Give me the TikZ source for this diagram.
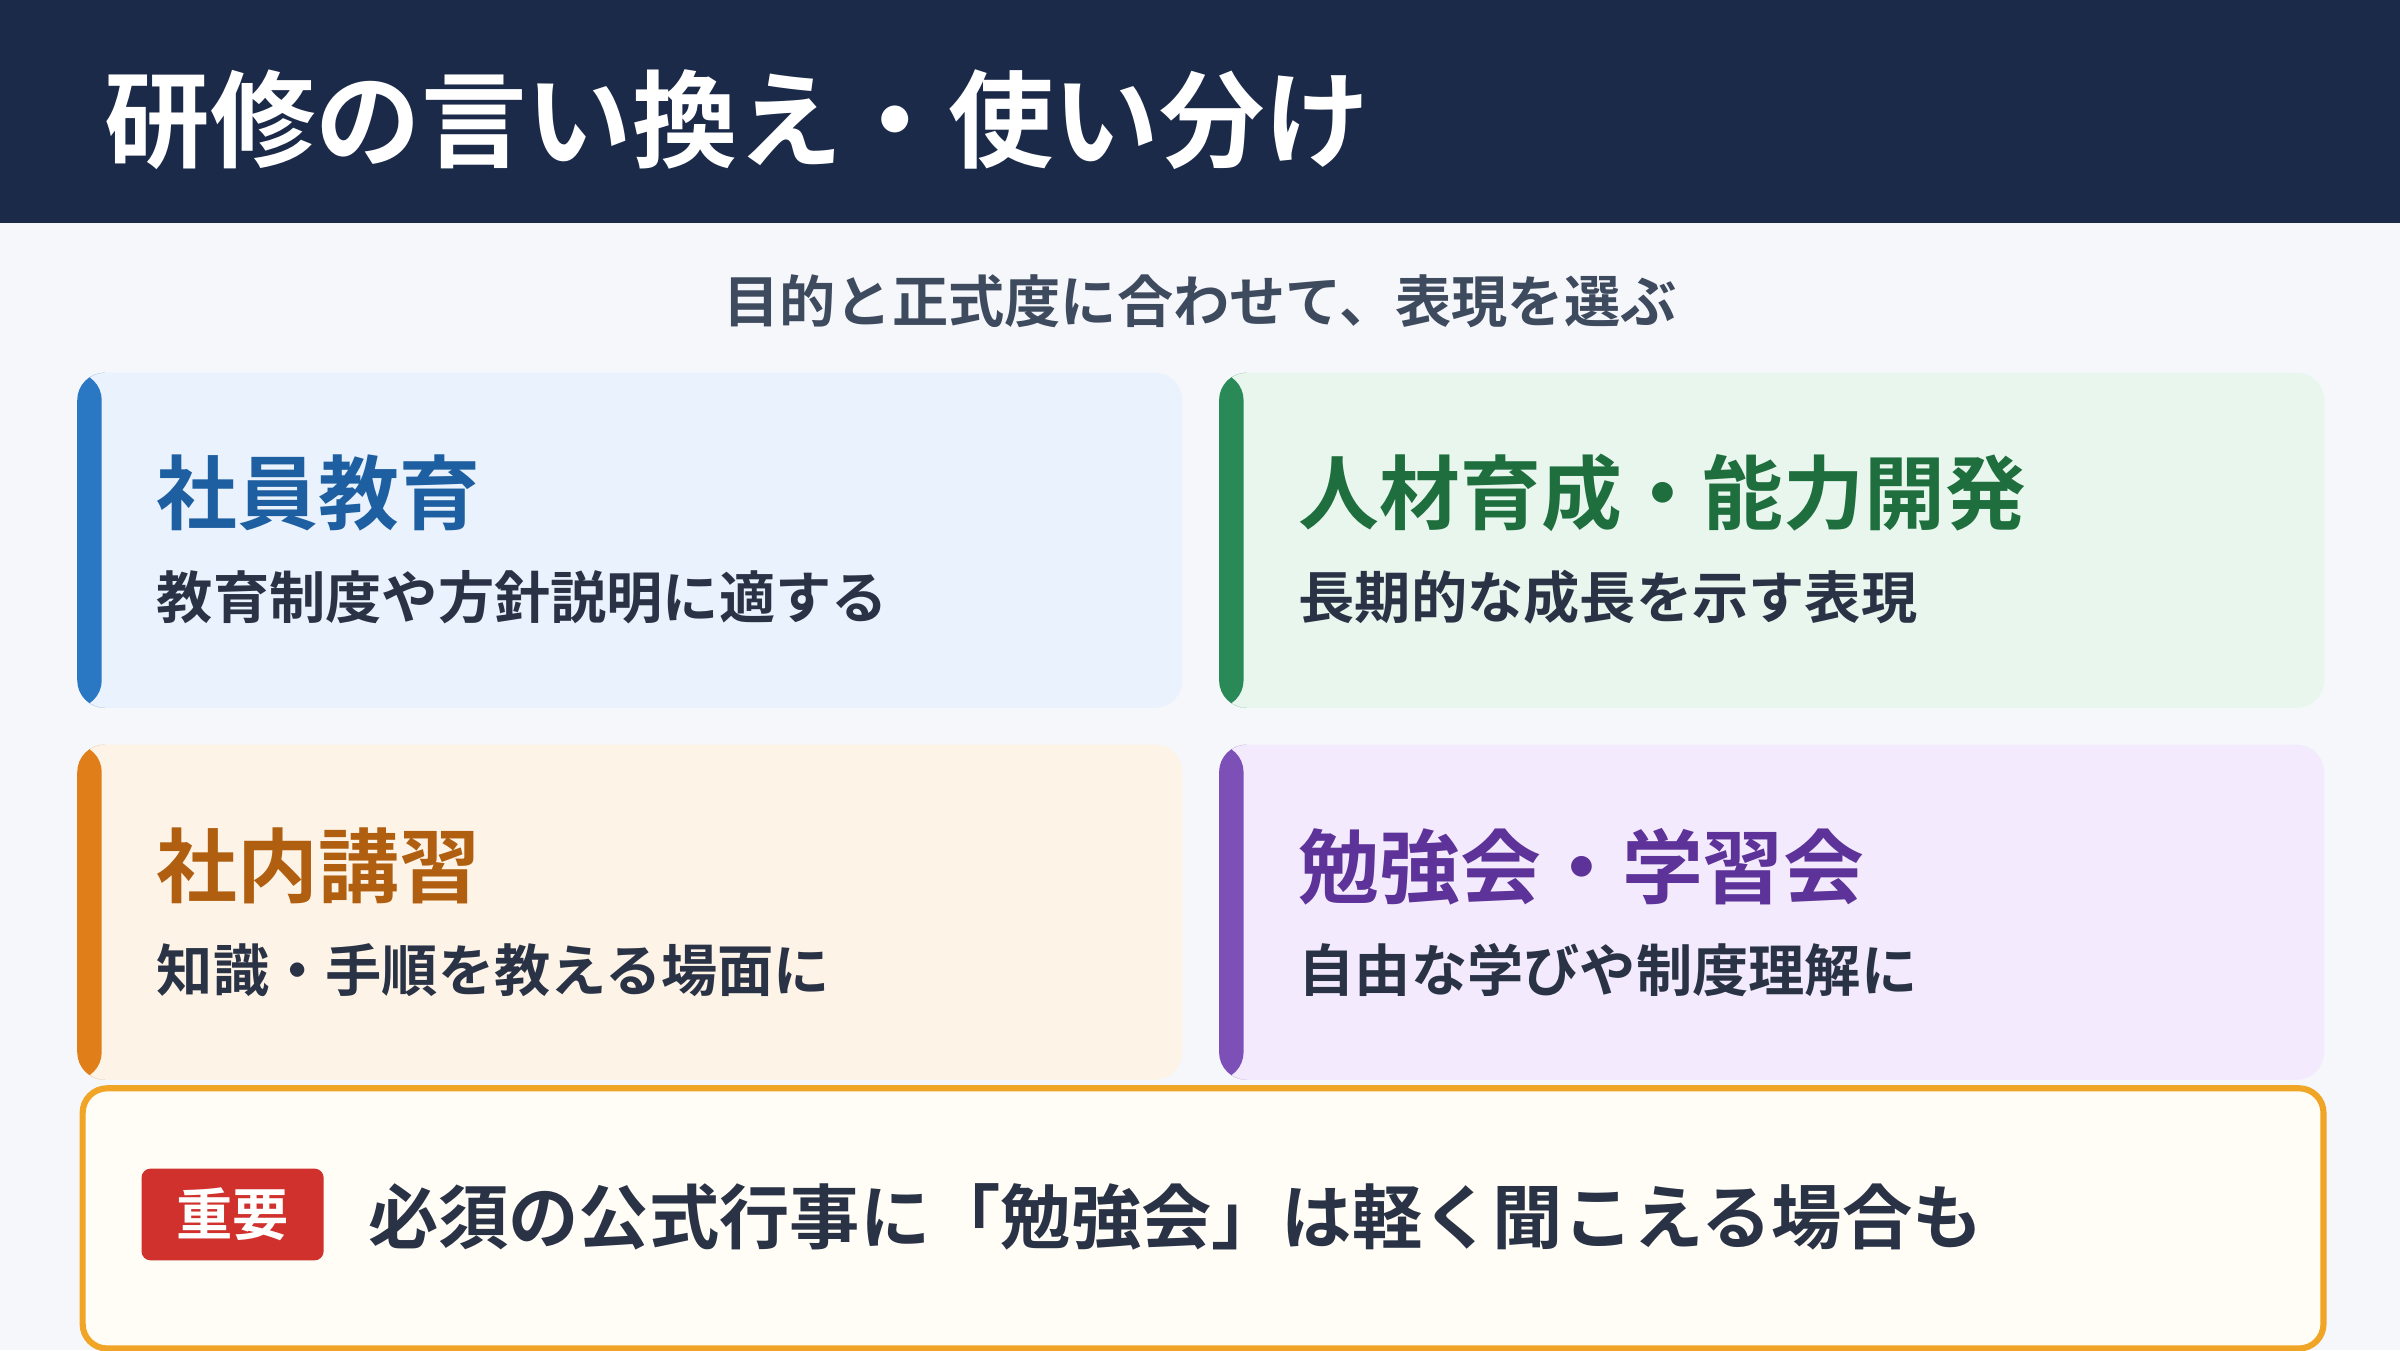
\documentclass[tikz,border=0pt]{standalone}
\usepackage{fontspec}
\setmainfont{Noto Sans CJK JP}[BoldFont={* Bold}]
\newfontfamily\jpb{Noto Sans CJK JP Bold}
\begin{document}
\def\U{0.015306cm}
\definecolor{hdr}{HTML}{1C2A4A}
\definecolor{bg}{HTML}{F5F7FB}
\definecolor{txt}{HTML}{2A3346}
\definecolor{sub}{HTML}{3E4A5E}
\definecolor{fA}{HTML}{EAF2FD}\definecolor{bA}{HTML}{2A78C4}\definecolor{hA}{HTML}{1D5FA0}
\definecolor{fB}{HTML}{E8F6EE}\definecolor{bB}{HTML}{2A8A57}\definecolor{hB}{HTML}{1E6E3E}
\definecolor{fC}{HTML}{FDF3E6}\definecolor{bC}{HTML}{E07F1A}\definecolor{hC}{HTML}{B05E10}
\definecolor{fD}{HTML}{F3EBFD}\definecolor{bD}{HTML}{7D50B8}\definecolor{hD}{HTML}{5D339A}
\definecolor{org}{HTML}{F0A526}\definecolor{bfill}{HTML}{FFFDF5}\definecolor{red}{HTML}{D0312D}
\begin{tikzpicture}[x=0.015306cm,y=-0.015306cm,
  card/.style 2 args={draw=none,fill=#1,rounded corners=18*\U,inner sep=0pt,anchor=north west,
     minimum width=722*\U,minimum height=219*\U,
     path picture={\fill[#2] (path picture bounding box.north west) rectangle ([xshift=16*\U]path picture bounding box.south west);}},
  head/.style={anchor=west,inner sep=0pt,font=\jpb\fontsize{23}{27}\selectfont},
  body/.style={anchor=west,inner sep=0pt,text=txt,font=\jpb\fontsize{16}{20}\selectfont}]
\useasboundingbox (0,0) rectangle (1568,882);
\fill[bg] (0,0) rectangle (1568,882);
\fill[hdr] (0,0) rectangle (1568,146);
\node[anchor=west,inner sep=0pt,text=white,font=\jpb\fontsize{30}{34}\selectfont] (title) at (68,78) {研修の言い換え・使い分け};
\node[inner sep=0pt,text=sub,font=\jpb\fontsize{16}{20}\selectfont] (subtitle) at (784,197) {目的と正式度に合わせて、表現を選ぶ};
\node[card={fA}{bA}] (c1) at (50,243) {};
\node[card={fB}{bB}] (c2) at (796,243) {};
\node[card={fC}{bC}] (c3) at (50,486) {};
\node[card={fD}{bD}] (c4) at (796,486) {};
\node[head,text=hA] (h1) at (102,322) {社員教育};
\node[body] (t1) at (102,390) {教育制度や方針説明に適する};
\node[head,text=hB] (h2) at (848,322) {人材育成・能力開発};
\node[body] (t2) at (848,390) {長期的な成長を示す表現};
\node[head,text=hC] (h3) at (102,566) {社内講習};
\node[body] (t3) at (102,634) {知識・手順を教える場面に};
\node[head,text=hD] (h4) at (848,566) {勉強会・学習会};
\node[body] (t4) at (848,634) {自由な学びや制度理解に};
\node[draw=org,line width=4*\U,fill=bfill,rounded corners=16*\U,anchor=north west,inner sep=0pt,
  minimum width=1464*\U,minimum height=170*\U] (note) at (52,709) {};
\node[fill=red,rounded corners=6*\U,anchor=north west,inner sep=0pt,minimum width=119*\U,minimum height=60*\U,
  text=white,font=\jpb\fontsize{16}{20}\selectfont] (badge) at (92,763) {重要};
\node[anchor=west,inner sep=0pt,text=txt,font=\jpb\fontsize{20}{24}\selectfont] (nt) at (240,795) {必須の公式行事に「勉強会」は軽く聞こえる場合も};
\end{tikzpicture}
\end{document}
